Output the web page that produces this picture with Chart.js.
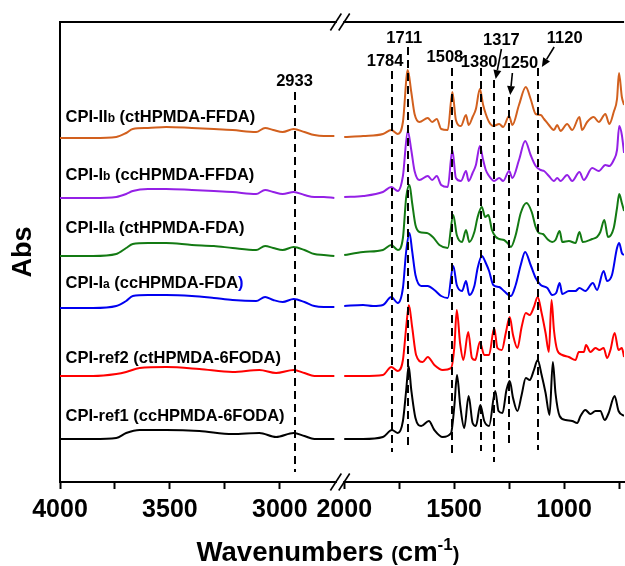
<!DOCTYPE html>
<html>
<head>
<meta charset="utf-8">
<script src="https://cdn.jsdelivr.net/npm/chart.js@4.4.0/dist/chart.umd.min.js"></script>
<style>
  html, body { margin: 0; padding: 0; background: #fff; }
</style>
</head>
<body>
<canvas id="ftir" width="625" height="566"></canvas>
<script>
// FTIR spectra: [wavenumber (cm-1), absorbance above the spectrum's own baseline]
const ctFFDA = [ // CPI-IIb
  [4000,0],[3850,0],[3744,0.01],[3699,0.05],[3669,0.09],[3600,0.10],[3517,0.11],[3400,0.10],[3300,0.09],
  [3215,0.08],[3108,0.06],[3067,0.10],[3030,0.08],[2987,0.06],[2937,0.09],[2888,0.06],[2843,0.03],[2800,0.02],[2752,0.02],
  [2000,0.01],[1914,0.02],[1824,0.04],[1786,0.08],[1756,0.04],[1733,0.16],[1711,0.68],[1695,0.46],[1680,0.24],
  [1658,0.16],[1620,0.20],[1600,0.16],[1579,0.19],[1559,0.09],[1529,0.08],[1508,0.46],[1492,0.18],[1469,0.12],
  [1446,0.23],[1434,0.13],[1416,0.21],[1401,0.29],[1383,0.49],[1368,0.33],[1356,0.24],[1341,0.16],[1322,0.12],
  [1295,0.14],[1277,0.11],[1250,0.22],[1235,0.13],[1205,0.33],[1174,0.51],[1152,0.39],[1129,0.24],[1106,0.23],
  [1091,0.19],[1069,0.13],[1046,0.08],[1031,0.13],[1016,0.07],[986,0.14],[963,0.08],[930,0.21],[918,0.08],
  [895,0.16],[865,0.21],[842,0.16],[812,0.24],[794,0.14],[774,0.26],[759,0.39],[750,0.65],[737,0.41],[727,0.33]
];
const ccFFDA = [ // CPI-Ib
  [4000,0],[3850,0],[3744,0.01],[3699,0.04],[3669,0.07],[3600,0.09],[3517,0.09],[3400,0.08],[3300,0.07],
  [3215,0.06],[3108,0.04],[3067,0.08],[3030,0.06],[2987,0.04],[2937,0.06],[2888,0.03],[2843,0.01],[2800,0.01],[2752,0],
  [2000,0.01],[1914,0.02],[1824,0.06],[1786,0.11],[1756,0.07],[1733,0.22],[1711,0.67],[1695,0.48],[1680,0.27],
  [1658,0.18],[1620,0.22],[1600,0.18],[1579,0.22],[1559,0.13],[1529,0.11],[1508,0.48],[1492,0.20],[1469,0.17],
  [1446,0.27],[1434,0.17],[1416,0.25],[1401,0.33],[1383,0.52],[1368,0.38],[1356,0.28],[1341,0.22],[1318,0.17],
  [1295,0.20],[1277,0.17],[1250,0.27],[1235,0.20],[1205,0.38],[1177,0.57],[1152,0.43],[1129,0.32],[1106,0.28],
  [1091,0.27],[1069,0.22],[1046,0.17],[1031,0.20],[1016,0.17],[986,0.23],[963,0.17],[930,0.26],[910,0.18],
  [872,0.30],[842,0.27],[812,0.33],[794,0.32],[774,0.38],[759,0.48],[749,0.72],[737,0.63],[727,0.45]
];
const ctFDA = [ // CPI-IIa
  [4000,0],[3850,0],[3744,0.02],[3699,0.08],[3669,0.12],[3600,0.13],[3517,0.13],[3400,0.11],[3300,0.10],
  [3215,0.08],[3108,0.06],[3067,0.10],[3030,0.08],[2987,0.06],[2937,0.09],[2888,0.06],[2843,0.02],[2800,0.01],[2752,0],
  [2000,0.01],[1914,0.04],[1824,0.06],[1786,0.11],[1756,0.06],[1733,0.18],[1718,0.59],[1703,0.71],[1691,0.53],
  [1676,0.31],[1658,0.24],[1624,0.23],[1597,0.19],[1567,0.11],[1529,0.08],[1504,0.41],[1488,0.21],[1464,0.14],
  [1446,0.26],[1431,0.14],[1408,0.24],[1393,0.39],[1374,0.49],[1359,0.39],[1344,0.41],[1328,0.26],[1310,0.19],
  [1295,0.17],[1273,0.16],[1257,0.13],[1242,0.09],[1220,0.21],[1197,0.43],[1171,0.53],[1147,0.44],[1129,0.29],
  [1114,0.23],[1096,0.22],[1076,0.17],[1054,0.14],[1039,0.16],[1020,0.25],[1008,0.14],[978,0.15],[948,0.13],
  [930,0.24],[915,0.14],[872,0.17],[850,0.19],[835,0.24],[817,0.36],[800,0.19],[774,0.28],[759,0.48],[749,0.62],
  [737,0.53],[727,0.45]
];
const ccFDA = [ // CPI-Ia
  [4000,0],[3850,0],[3744,0.02],[3699,0.07],[3669,0.12],[3600,0.13],[3517,0.13],[3400,0.12],[3300,0.10],
  [3215,0.08],[3108,0.07],[3067,0.11],[3030,0.08],[2987,0.06],[2937,0.09],[2888,0.06],[2843,0.02],[2800,0.01],[2752,0.01],
  [2000,0.02],[1914,0.03],[1869,0.02],[1824,0.03],[1786,0.11],[1756,0.05],[1733,0.20],[1718,0.57],[1703,0.75],
  [1691,0.57],[1676,0.33],[1650,0.22],[1620,0.22],[1590,0.18],[1559,0.12],[1529,0.10],[1504,0.42],[1488,0.23],
  [1464,0.17],[1446,0.27],[1431,0.13],[1408,0.22],[1393,0.40],[1374,0.52],[1356,0.45],[1341,0.37],[1322,0.23],
  [1295,0.21],[1273,0.17],[1242,0.12],[1220,0.23],[1197,0.43],[1177,0.56],[1152,0.43],[1129,0.30],[1106,0.23],
  [1076,0.20],[1054,0.13],[1036,0.15],[1020,0.25],[1008,0.14],[978,0.17],[948,0.17],[930,0.20],[903,0.17],
  [869,0.25],[850,0.18],[820,0.37],[804,0.27],[782,0.33],[759,0.60],[749,0.65],[737,0.55],[727,0.53]
];
const ct6FODA = [ // CPI-ref2
  [4000,0],[3850,0],[3744,0.02],[3699,0.04],[3638,0.08],[3517,0.09],[3366,0.07],[3215,0.04],[3093,0.06],
  [3017,0.03],[2937,0.06],[2888,0.03],[2843,0],[2800,0],[2752,0],
  [2000,0],[1914,0],[1824,0.01],[1786,0.09],[1756,0.05],[1733,0.16],[1718,0.49],[1706,0.71],[1691,0.49],
  [1673,0.21],[1643,0.14],[1620,0.19],[1590,0.11],[1552,0.06],[1514,0.08],[1499,0.29],[1488,0.66],[1473,0.33],
  [1458,0.16],[1436,0.44],[1419,0.18],[1404,0.16],[1383,0.34],[1363,0.21],[1341,0.21],[1318,0.48],[1303,0.28],
  [1283,0.26],[1265,0.43],[1247,0.59],[1232,0.41],[1212,0.28],[1193,0.49],[1174,0.63],[1156,0.61],[1137,0.69],
  [1120,0.79],[1102,0.63],[1084,0.43],[1069,0.24],[1057,0.76],[1046,0.46],[1031,0.26],[1008,0.21],[978,0.19],
  [948,0.16],[933,0.24],[910,0.24],[900,0.31],[880,0.24],[857,0.28],[839,0.26],[820,0.28],[804,0.18],[789,0.26],
  [770,0.43],[752,0.26],[737,0.28],[727,0.19]
];
const cc6FODA = [ // CPI-ref1
  [4000,0],[3850,0],[3744,0.01],[3699,0.06],[3638,0.09],[3517,0.09],[3366,0.08],[3215,0.05],[3093,0.06],
  [3017,0.02],[2937,0.06],[2888,0.03],[2843,0],[2800,0],[2752,0],
  [2000,0],[1914,0],[1824,0.02],[1783,0.09],[1756,0.06],[1733,0.18],[1718,0.49],[1707,0.73],[1695,0.49],
  [1676,0.21],[1650,0.13],[1615,0.18],[1590,0.09],[1552,0.02],[1514,0.06],[1499,0.33],[1487,0.64],[1472,0.33],
  [1454,0.11],[1434,0.43],[1416,0.16],[1401,0.13],[1381,0.34],[1363,0.18],[1341,0.13],[1313,0.48],[1298,0.28],
  [1280,0.26],[1262,0.49],[1247,0.58],[1232,0.41],[1212,0.28],[1193,0.44],[1174,0.61],[1156,0.59],[1137,0.69],
  [1120,0.79],[1102,0.64],[1084,0.46],[1066,0.24],[1051,0.77],[1039,0.46],[1020,0.23],[993,0.19],[963,0.18],
  [940,0.16],[925,0.23],[903,0.29],[880,0.25],[857,0.28],[835,0.28],[815,0.19],[797,0.26],[770,0.43],[752,0.28],
  [727,0.23]
];

const spectra = [ctFFDA, ccFFDA, ctFDA, ccFDA, ct6FODA, cc6FODA];
const seriesNames = [
  ['CPI-II', 'b', ' (ctHPMDA-FFDA)'],
  ['CPI-I', 'b', ' (ccHPMDA-FFDA)'],
  ['CPI-II', 'a', ' (ctHPMDA-FDA)'],
  ['CPI-I', 'a', ' (ccHPMDA-FDA'],
  ['CPI-ref2 (ctHPMDA-6FODA)'],
  ['CPI-ref1 (ccHPMDA-6FODA)']
];
const stackOffsets = [3.44, 2.84, 2.26, 1.74, 1.06, 0.43];
const labelLevels = [3.60, 3.02, 2.49, 1.94, 1.19, 0.61];
const seriesColors = ['#d2601e', '#9420e6', '#137a13', '#0000f0', '#ff0000', '#000000'];

// x axis ticks
const tickWavenumbers = [4000, 3750, 3500, 3250, 3000, 2000, 1750, 1500, 1250, 1000, 750];
const tickLabels = ['4000', '', '3500', '', '3000', '2000', '', '1500', '', '1000', ''];

// assigned bands: dashed guide + label (y in stacked absorbance units)
const peakNotes = [
  { wn: 2933, top: 3.90, bottom: 0.10, labelWn: 2933, labelY: 3.96 },
  { wn: 1784, top: 4.11, bottom: 0.30, labelWn: 1814, labelY: 4.16 },
  { wn: 1711, top: 4.35, bottom: 0.34, labelWn: 1727, labelY: 4.39 },
  { wn: 1508, top: 4.14, bottom: 0.29, labelWn: 1542, labelY: 4.20 },
  { wn: 1380, top: 4.14, bottom: 0.31, labelWn: 1386, labelY: 4.15 },
  { wn: 1317, top: 4.02, bottom: 0.20, labelWn: 1285, labelY: 4.37, arrow: [1285, 4.33, 1311, 4.03] },
  { wn: 1250, top: 3.85, bottom: 0.35, labelWn: 1201, labelY: 4.14, arrow: [1235, 4.09, 1245, 3.87] },
  { wn: 1120, top: 4.14, bottom: 0.32, labelWn: 997, labelY: 4.39, arrow: [1045, 4.35, 1101, 4.15] }
];

// broken axis: 4000-2745 then 2000-727 on one linear scale
const HIGH_END = 2745;
const LOW_START = 2000;
const LOW_END = 727;
const PANEL_GAP = 38;

function toAxis(wn) {
  if (wn > LOW_START) return 4000 - wn;
  return (4000 - HIGH_END) + PANEL_GAP + (LOW_START - wn);
}

function buildPoints(spec, offset) {
  const pts = [];
  spec.forEach(([wn, a], i) => {
    if (i > 0 && spec[i - 1][0] > LOW_START && wn <= LOW_START) {
      pts.push({ x: toAxis(HIGH_END) + PANEL_GAP / 2, y: null });
    }
    pts.push({ x: toAxis(wn), y: a + offset });
  });
  return pts;
}

const FONT = "'Liberation Sans', Arial, sans-serif";

function richText(ctx, parts, x, y) {
  let cx = x;
  parts.forEach(p => {
    ctx.font = 'bold ' + p.size + 'px ' + FONT;
    ctx.fillStyle = p.color || '#000';
    ctx.fillText(p.t, cx, y + (p.dy || 0));
    cx += ctx.measureText(p.t).width;
  });
  return cx - x;
}

function richWidth(ctx, parts) {
  let w = 0;
  parts.forEach(p => {
    ctx.font = 'bold ' + p.size + 'px ' + FONT;
    w += ctx.measureText(p.t).width;
  });
  return w;
}

const decor = {
  id: 'ftirDecor',
  afterDraw(chart) {
    const { ctx, chartArea: area, scales: { x, y } } = chart;
    ctx.save();
    ctx.strokeStyle = '#000';
    ctx.lineCap = 'butt';

    // top frame line
    ctx.lineWidth = 2;
    ctx.beginPath();
    ctx.moveTo(area.left - 1, area.top);
    ctx.lineTo(area.right, area.top);
    ctx.stroke();

    // axis break marks
    const b1 = x.getPixelForValue(toAxis(HIGH_END));
    const b2 = x.getPixelForValue(toAxis(LOW_START));
    [area.top, area.bottom].forEach(ay => {
      ctx.fillStyle = '#fff';
      ctx.fillRect(b1 + 1, ay - 2, b2 - b1 - 2, 4);
      ctx.lineWidth = 1.6;
      [b1, b2].forEach(bx => {
        ctx.beginPath();
        ctx.moveTo(bx - 5.5, ay + 8.5);
        ctx.lineTo(bx + 5.5, ay - 8.5);
        ctx.stroke();
      });
    });

    // dashed guides
    ctx.lineWidth = 2;
    ctx.setLineDash([8, 5]);
    peakNotes.forEach(n => {
      const px = Math.round(x.getPixelForValue(toAxis(n.wn)));
      ctx.beginPath();
      ctx.moveTo(px, y.getPixelForValue(n.top));
      ctx.lineTo(px, y.getPixelForValue(n.bottom));
      ctx.stroke();
    });
    ctx.setLineDash([]);

    // band labels and arrows
    ctx.textAlign = 'center';
    ctx.textBaseline = 'alphabetic';
    ctx.fillStyle = '#000';
    ctx.font = 'bold 16.5px ' + FONT;
    peakNotes.forEach(n => {
      ctx.fillText(String(n.wn), x.getPixelForValue(toAxis(n.labelWn)), y.getPixelForValue(n.labelY));
      if (!n.arrow) return;
      const x0 = x.getPixelForValue(toAxis(n.arrow[0]));
      const y0 = y.getPixelForValue(n.arrow[1]);
      const x1 = x.getPixelForValue(toAxis(n.arrow[2]));
      const y1 = y.getPixelForValue(n.arrow[3]);
      const ang = Math.atan2(y1 - y0, x1 - x0);
      const head = 9, half = 4;
      const hx = x1 - head * Math.cos(ang), hy = y1 - head * Math.sin(ang);
      ctx.lineWidth = 1.6;
      ctx.beginPath();
      ctx.moveTo(x0, y0);
      ctx.lineTo(hx, hy);
      ctx.stroke();
      ctx.beginPath();
      ctx.moveTo(x1, y1);
      ctx.lineTo(hx + half * Math.sin(ang), hy - half * Math.cos(ang));
      ctx.lineTo(hx - half * Math.sin(ang), hy + half * Math.cos(ang));
      ctx.closePath();
      ctx.fill();
    });

    // spectrum names
    ctx.textAlign = 'left';
    const lx = x.getPixelForValue(toAxis(3975));
    seriesNames.forEach((name, i) => {
      const parts = name.length === 1
        ? [{ t: name[0], size: 16.5 }]
        : [{ t: name[0], size: 16.5 }, { t: name[1], size: 12 }, { t: name[2], size: 16.5 }];
      if (i === 3) parts.push({ t: ')', size: 16.5, color: seriesColors[3] });
      richText(ctx, parts, lx, y.getPixelForValue(labelLevels[i]));
    });

    // axis titles
    const xTitle = [
      { t: 'Wavenumbers ', size: 27.5 },
      { t: '(', size: 20 },
      { t: 'cm', size: 27.5 },
      { t: '-1', size: 17, dy: -11 },
      { t: ')', size: 20 }
    ];
    const tw = richWidth(ctx, xTitle);
    richText(ctx, xTitle, 328 - tw / 2, 561);

    ctx.translate(24, (area.top + area.bottom) / 2);
    ctx.rotate(-Math.PI / 2);
    ctx.textAlign = 'center';
    ctx.textBaseline = 'middle';
    ctx.font = 'bold 27px ' + FONT;
    ctx.fillStyle = '#000';
    ctx.fillText('Abs', 0, 0);
    ctx.restore();
  }
};

new Chart(document.getElementById('ftir'), {
  type: 'line',
  data: {
    datasets: spectra.map((spec, i) => ({
      data: buildPoints(spec, stackOffsets[i]),
      borderColor: seriesColors[i],
      borderWidth: 2,
      pointRadius: 0,
      cubicInterpolationMode: 'monotone',
      spanGaps: false,
      fill: false
    }))
  },
  options: {
    responsive: false,
    devicePixelRatio: 1,
    animation: false,
    events: [],
    layout: { padding: { top: 22, right: 0, left: 0, bottom: 0 } },
    plugins: { legend: { display: false }, tooltip: { enabled: false } },
    scales: {
      x: {
        type: 'linear',
        min: 0,
        max: toAxis(LOW_END),
        afterBuildTicks: s => { s.ticks = tickWavenumbers.map(w => ({ value: toAxis(w) })); },
        afterFit: s => { s.height = 84; },
        ticks: {
          callback: (v, i) => tickLabels[i],
          autoSkip: false,
          maxRotation: 0,
          padding: 6,
          color: '#000',
          font: { family: FONT, size: 25, weight: 'bold' }
        },
        grid: { drawOnChartArea: false, tickLength: 7, tickWidth: 2, color: '#000' },
        border: { color: '#000', width: 2 }
      },
      y: {
        min: 0,
        max: 4.6,
        afterFit: s => { s.width = 60; },
        ticks: { display: false },
        grid: { display: false, drawTicks: false },
        border: { color: '#000', width: 2 }
      }
    }
  },
  plugins: [decor]
});
</script>
</body>
</html>
